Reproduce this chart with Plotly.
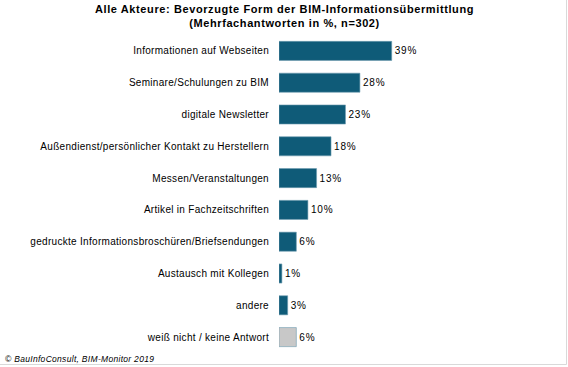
import plotly.graph_objects as go

categories = [
    "Informationen auf Webseiten",
    "Seminare/Schulungen zu BIM",
    "digitale Newsletter",
    "Außendienst/persönlicher Kontakt zu Herstellern",
    "Messen/Veranstaltungen",
    "Artikel in Fachzeitschriften",
    "gedruckte Informationsbroschüren/Briefsendungen",
    "Austausch mit Kollegen",
    "andere",
    "weiß nicht / keine Antwort",
]
values = [39, 28, 23, 18, 13, 10, 6, 1, 3, 6]
bar_colors = ["#0F5B78"] * 9 + ["#C8C8C8"]

W, H = 568, 367
L, R, T, B = 279, 28, 35, 14
px_per_pct = 2.89
xmax = (W - L - R) / px_per_pct

FONT = "Liberation Sans, Arial"

def spaced(s, ls):
    return f'<span style="letter-spacing:{ls}px">{s}</span>'

fig = go.Figure(go.Bar(
    x=values,
    y=categories,
    orientation="h",
    marker=dict(color=bar_colors, line=dict(color="#6F9CB0", width=0.6)),
    text=[spaced(f"{v}%", 0.8) for v in values],
    textposition="outside",
    textfont=dict(family=FONT, size=10, color="#000000"),
    cliponaxis=False,
    hoverinfo="skip",
))

fig.update_layout(
    width=W, height=H,
    margin=dict(l=L, r=R, t=T, b=B, autoexpand=False),
    paper_bgcolor="white",
    plot_bgcolor="white",
    bargap=0.4,
    showlegend=False,
    font=dict(family=FONT, size=10, color="#000000"),
    xaxis=dict(range=[0, xmax], visible=False, fixedrange=True),
    yaxis=dict(
        autorange="reversed",
        showline=False, showgrid=False, zeroline=False,
        ticks="", ticklabelstandoff=9,
        tickmode="array",
        tickvals=categories,
        ticktext=[spaced(c, 0.3) for c in categories],
        tickfont=dict(family=FONT, size=10, color="#000000"),
        automargin=False,
        fixedrange=True,
    ),
    annotations=[
        dict(
            text=spaced("<b>Alle Akteure: Bevorzugte Form der BIM-Informationsübermittlung</b>", 0.6)
                 + "<br>" + spaced("<b>(Mehrfachantworten in %, n=302)</b>", 0.6),
            xref="paper", yref="paper",
            x=(W / 2 - L) / (W - L - R), y=1,
            yshift=T - 1,
            xanchor="center", yanchor="top",
            showarrow=False,
            font=dict(family=FONT, size=11, color="#000000"),
        ),
        dict(
            text=spaced("<i>© BauInfoConsult, BIM-Monitor 2019</i>", 0.3),
            xref="paper", yref="paper",
            x=(3 - L) / (W - L - R), y=0,
            yshift=1,
            xanchor="left", yanchor="top",
            showarrow=False,
            font=dict(family=FONT, size=8.5, color="#000000"),
        ),
    ],
)

pw = W - L - R
ph = H - T - B
def px(xp):
    return (xp - L) / pw
def py(yp):
    return (H - B - yp) / ph

fig.add_shape(type="line", xref="paper", yref="paper",
              x0=px(566.5), x1=px(566.5), y0=py(0), y1=py(364.5),
              line=dict(color="#D9D9D9", width=1))
fig.add_shape(type="line", xref="paper", yref="paper",
              x0=px(0), x1=px(566.5), y0=py(364.5), y1=py(364.5),
              line=dict(color="#D9D9D9", width=1))

fig.write_html(
    "out.html",
    config={"displayModeBar": False},
    post_script="document.body.style.margin='0';document.body.style.padding='0';",
)
